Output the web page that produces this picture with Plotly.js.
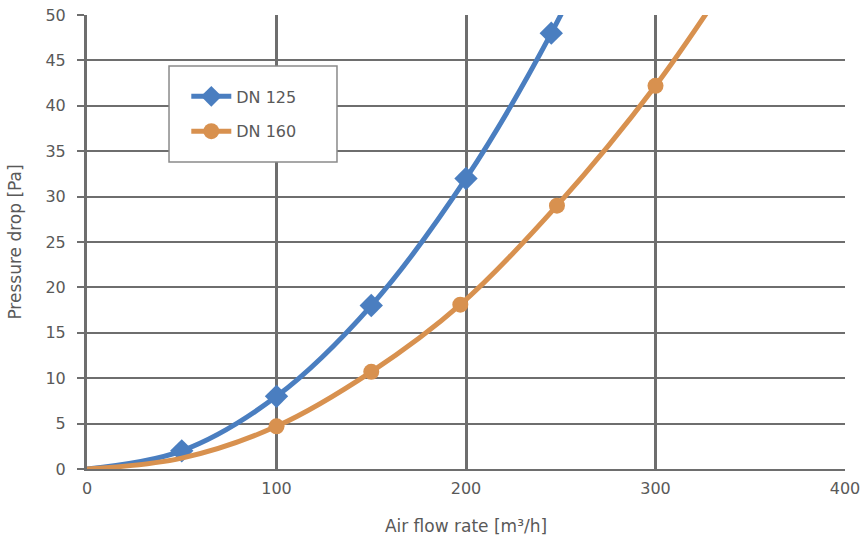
<!DOCTYPE html>
<html><head><meta charset="utf-8">
<script src="https://cdn.plot.ly/plotly-3.0.1.min.js"></script>
<style>html,body{margin:0;padding:0;background:#fff}#chart{width:864px;height:538px}</style>
</head><body><div id="chart"></div>
<script>
// DN 125 curve points (last point beyond axis range, clipped)
const dn125Flow = [0, 50, 100, 150, 200, 245, 300];
const dn125Drop = [0, 2, 8, 18, 32, 48, 72];
// DN 125 marked points
const dn125MarkFlow = [50, 100, 150, 200, 245];
const dn125MarkDrop = [2, 8, 18, 32, 48];
// DN 160 curve points
const dn160Flow = [0, 50, 100, 150, 197, 248, 300, 350];
const dn160Drop = [0, 1.2, 4.7, 10.7, 18.1, 29, 42.2, 57.5];
const dn160MarkFlow = [100, 150, 197, 248, 300];
const dn160MarkDrop = [4.7, 10.7, 18.1, 29, 42.2];
const seriesNames = ['DN 125', 'DN 160'];
const xTicks = [0, 100, 200, 300, 400];
const yTicks = [0, 5, 10, 15, 20, 25, 30, 35, 40, 45, 50];

const blue = '#4A7EC0', orange = '#D8914F', grid = '#6E6E6E', txt = '#595959';
const font = "'DejaVu Sans', sans-serif";

const traces = [
  {x: dn125Flow, y: dn125Drop, mode: 'lines', line: {color: blue, width: 5, shape: 'spline'}, showlegend: false, hoverinfo: 'skip'},
  {x: dn125MarkFlow, y: dn125MarkDrop, mode: 'markers', marker: {symbol: 'diamond', size: 18, color: blue}, showlegend: false},
  {x: dn160Flow, y: dn160Drop, mode: 'lines', line: {color: orange, width: 5, shape: 'spline'}, showlegend: false, hoverinfo: 'skip'},
  {x: dn160MarkFlow, y: dn160MarkDrop, mode: 'markers', marker: {symbol: 'circle', size: 16, color: orange}, showlegend: false},
  {x: [null], y: [null], name: seriesNames[0], legendgroup: 'a', mode: 'lines+markers', line: {color: blue, width: 5}, marker: {symbol: 'diamond', size: 16, color: blue}},
  {x: [null], y: [null], name: seriesNames[1], legendgroup: 'b', mode: 'lines+markers', line: {color: orange, width: 5}, marker: {symbol: 'circle', size: 16, color: orange}}
];

const layout = {
  width: 864, height: 538,
  margin: {l: 87, r: 19, t: 15, b: 69},
  paper_bgcolor: '#fff', plot_bgcolor: '#fff',
  font: {family: font, size: 16, color: txt},
  showlegend: true,
  legend: {x: 0.131, y: 0.858, xanchor: 'left', yanchor: 'top', bgcolor: 'rgba(0,0,0,0)',
           borderwidth: 0, font: {family: font, size: 16, color: txt},
           traceorder: 'grouped', tracegroupgap: 11, itemwidth: 40},
  shapes: [{type: 'rect', xref: 'paper', yref: 'paper', x0: 0.1082, x1: 0.3298, y0: 0.6762, y1: 0.8877,
            fillcolor: '#fff', line: {color: '#8a8a8a', width: 1.5}, layer: 'above'}],
  xaxis: {range: [0, 400], tickvals: xTicks, ticktext: xTicks.map(String), showgrid: true,
          gridcolor: grid, gridwidth: 3, showline: true, linecolor: grid, linewidth: 2,
          zeroline: false, ticks: '', fixedrange: true, ticklabelstandoff: 4,
          title: {text: 'Air flow rate [m³/h]', font: {family: font, size: 17, color: txt}, standoff: 23}},
  yaxis: {range: [0, 50], tickvals: yTicks, ticktext: yTicks.map(String), showgrid: true,
          gridcolor: grid, gridwidth: 2, showline: true, linecolor: grid, linewidth: 3,
          zeroline: false, ticks: 'outside', ticklen: 7, tickwidth: 2, tickcolor: grid, fixedrange: true,
          ticklabelstandoff: 8,
          title: {text: 'Pressure drop [Pa]', font: {family: font, size: 17, color: txt}, standoff: 20}}
};
Plotly.newPlot('chart', traces, layout, {displayModeBar: false, staticPlot: true});
</script></body></html>
